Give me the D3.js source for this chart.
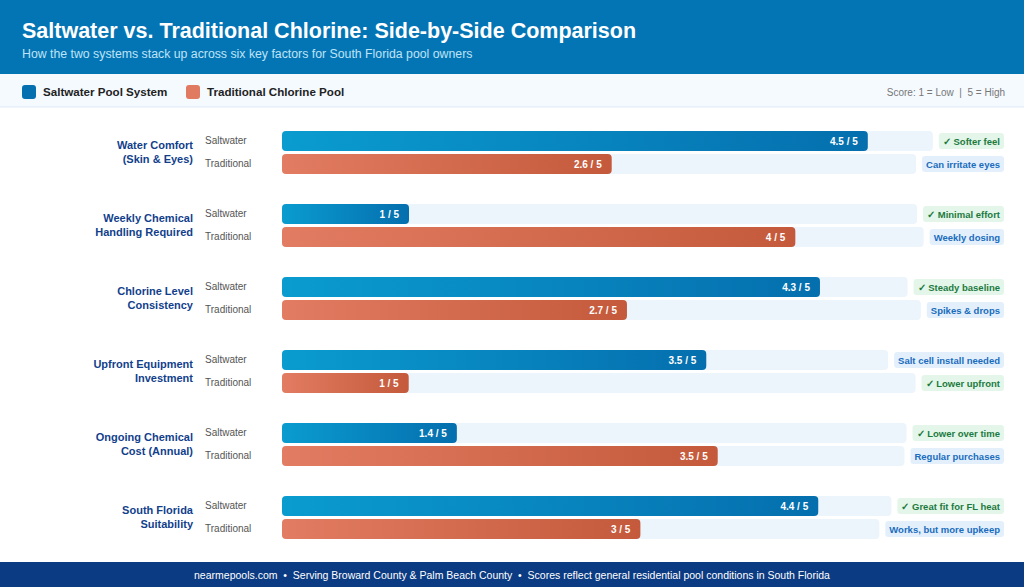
<!DOCTYPE html><html><head><meta charset="utf-8"><script src="https://cdn.jsdelivr.net/npm/d3@7"></script>
<style>body{margin:0;background:#fff;font-family:"Liberation Sans",Arial,sans-serif}text{white-space:pre}</style></head><body><svg id="c" width="1024" height="587"></svg><script>
const categories=[["Water Comfort","(Skin & Eyes)"],["Weekly Chemical","Handling Required"],["Chlorine Level","Consistency"],["Upfront Equipment","Investment"],["Ongoing Chemical","Cost (Annual)"],["South Florida","Suitability"]];
const saltValues=[4.5,1,4.3,3.5,1.4,4.4];
const tradValues=[2.6,4,2.7,1,3.5,3];
const saltNotes=["✓ Softer feel","✓ Minimal effort","✓ Steady baseline","Salt cell install needed","✓ Lower over time","✓ Great fit for FL heat"];
const tradNotes=["Can irritate eyes","Weekly dosing","Spikes & drops","✓ Lower upfront","Regular purchases","Works, but more upkeep"];
const svg=d3.select("#c");
const defs=svg.append("defs");
function grad(id,a,b){const g=defs.append("linearGradient").attr("id",id);g.append("stop").attr("offset",0).attr("stop-color",a);g.append("stop").attr("offset",1).attr("stop-color",b);}
grad("gs","#0a9ccf","#056fae");grad("gt","#e27c62","#c45a3b");
svg.append("rect").attr("width",1024).attr("height",74).attr("fill","#0475b4");
svg.append("text").attr("x",22).attr("y",38).attr("fill","#fff").attr("font-size",21.5).attr("font-weight",700).text("Saltwater vs. Traditional Chlorine: Side-by-Side Comparison");
svg.append("text").attr("x",22).attr("y",58).attr("fill","#bfe3f7").attr("font-size",12.3).text("How the two systems stack up across six key factors for South Florida pool owners");
svg.append("rect").attr("y",74).attr("width",1024).attr("height",33).attr("fill","#f5faff");
svg.append("line").attr("x1",0).attr("x2",1024).attr("y1",107).attr("y2",107).attr("stroke","#dcebf8");
svg.append("rect").attr("x",22).attr("y",85).attr("width",14).attr("height",14).attr("rx",3).attr("fill","#0570b0");
svg.append("text").attr("x",43).attr("y",96).attr("font-size",11.6).attr("font-weight",700).attr("fill","#222").text("Saltwater Pool System");
svg.append("rect").attr("x",186).attr("y",85).attr("width",14).attr("height",14).attr("rx",3).attr("fill","#e07a60");
svg.append("text").attr("x",207).attr("y",96).attr("font-size",11.6).attr("font-weight",700).attr("fill","#222").text("Traditional Chlorine Pool");
svg.append("text").attr("x",1005).attr("y",96).attr("text-anchor","end").attr("font-size",10).attr("fill","#777").text("Score: 1 = Low  |  5 = High");
const y=d3.scalePoint().domain(d3.range(6)).range([152,517]);
const badgeRight=1004, trackX=282, barH=20;
function badgeW(t){const tmp=svg.append("text").attr("font-size",9.5).attr("font-weight",700).text(t);const w=tmp.node().getComputedTextLength();tmp.remove();return w+8;}
categories.forEach((c,i)=>{
  const cy=y(i);
  const g=svg.append("g");
  g.append("text").attr("x",193).attr("y",cy-3).attr("text-anchor","end").attr("font-size",11).attr("font-weight",700).attr("fill","#123f8c").text(c[0]);
  g.append("text").attr("x",193).attr("y",cy+11).attr("text-anchor","end").attr("font-size",11).attr("font-weight",700).attr("fill","#123f8c").text(c[1]);
  [[saltValues[i],saltNotes[i],"Saltwater","url(#gs)",cy-21],[tradValues[i],tradNotes[i],"Traditional","url(#gt)",cy+2]].forEach(([v,note,lab,fill,by])=>{
    g.append("text").attr("x",205).attr("y",by+13).attr("font-size",10).attr("fill","#555").text(lab);
    const bw=badgeW(note), bx=badgeRight-bw, trackEnd=bx-6;
    const x=d3.scaleLinear().domain([0,5]).range([trackX,trackEnd]);
    g.append("rect").attr("x",trackX).attr("y",by).attr("width",trackEnd-trackX).attr("height",barH).attr("rx",4).attr("fill","#ecf4fc");
    g.append("rect").attr("x",trackX).attr("y",by).attr("width",x(v)-trackX).attr("height",barH).attr("rx",4).attr("fill",fill);
    g.append("text").attr("x",x(v)-10).attr("y",by+14).attr("text-anchor","end").attr("font-size",10).attr("font-weight",700).attr("fill","#fff").text(v+" / 5");
    const good=note.startsWith("✓");
    g.append("rect").attr("x",bx).attr("y",by+2).attr("width",bw).attr("height",16).attr("rx",3).attr("fill",good?"#e4f6ea":"#e3f0fc");
    g.append("text").attr("x",bx+4).attr("y",by+13.5).attr("font-size",9.5).attr("font-weight",700).attr("fill",good?"#1d7a3f":"#1a6cbd").text(note);
  });
});
svg.append("rect").attr("y",562).attr("width",1024).attr("height",25).attr("fill","#0b3b82");
svg.append("text").attr("x",512).attr("y",579).attr("text-anchor","middle").attr("font-size",10.5).attr("fill","#fff").text("nearmepools.com  •  Serving Broward County & Palm Beach County  •  Scores reflect general residential pool conditions in South Florida");
</script></body></html>
